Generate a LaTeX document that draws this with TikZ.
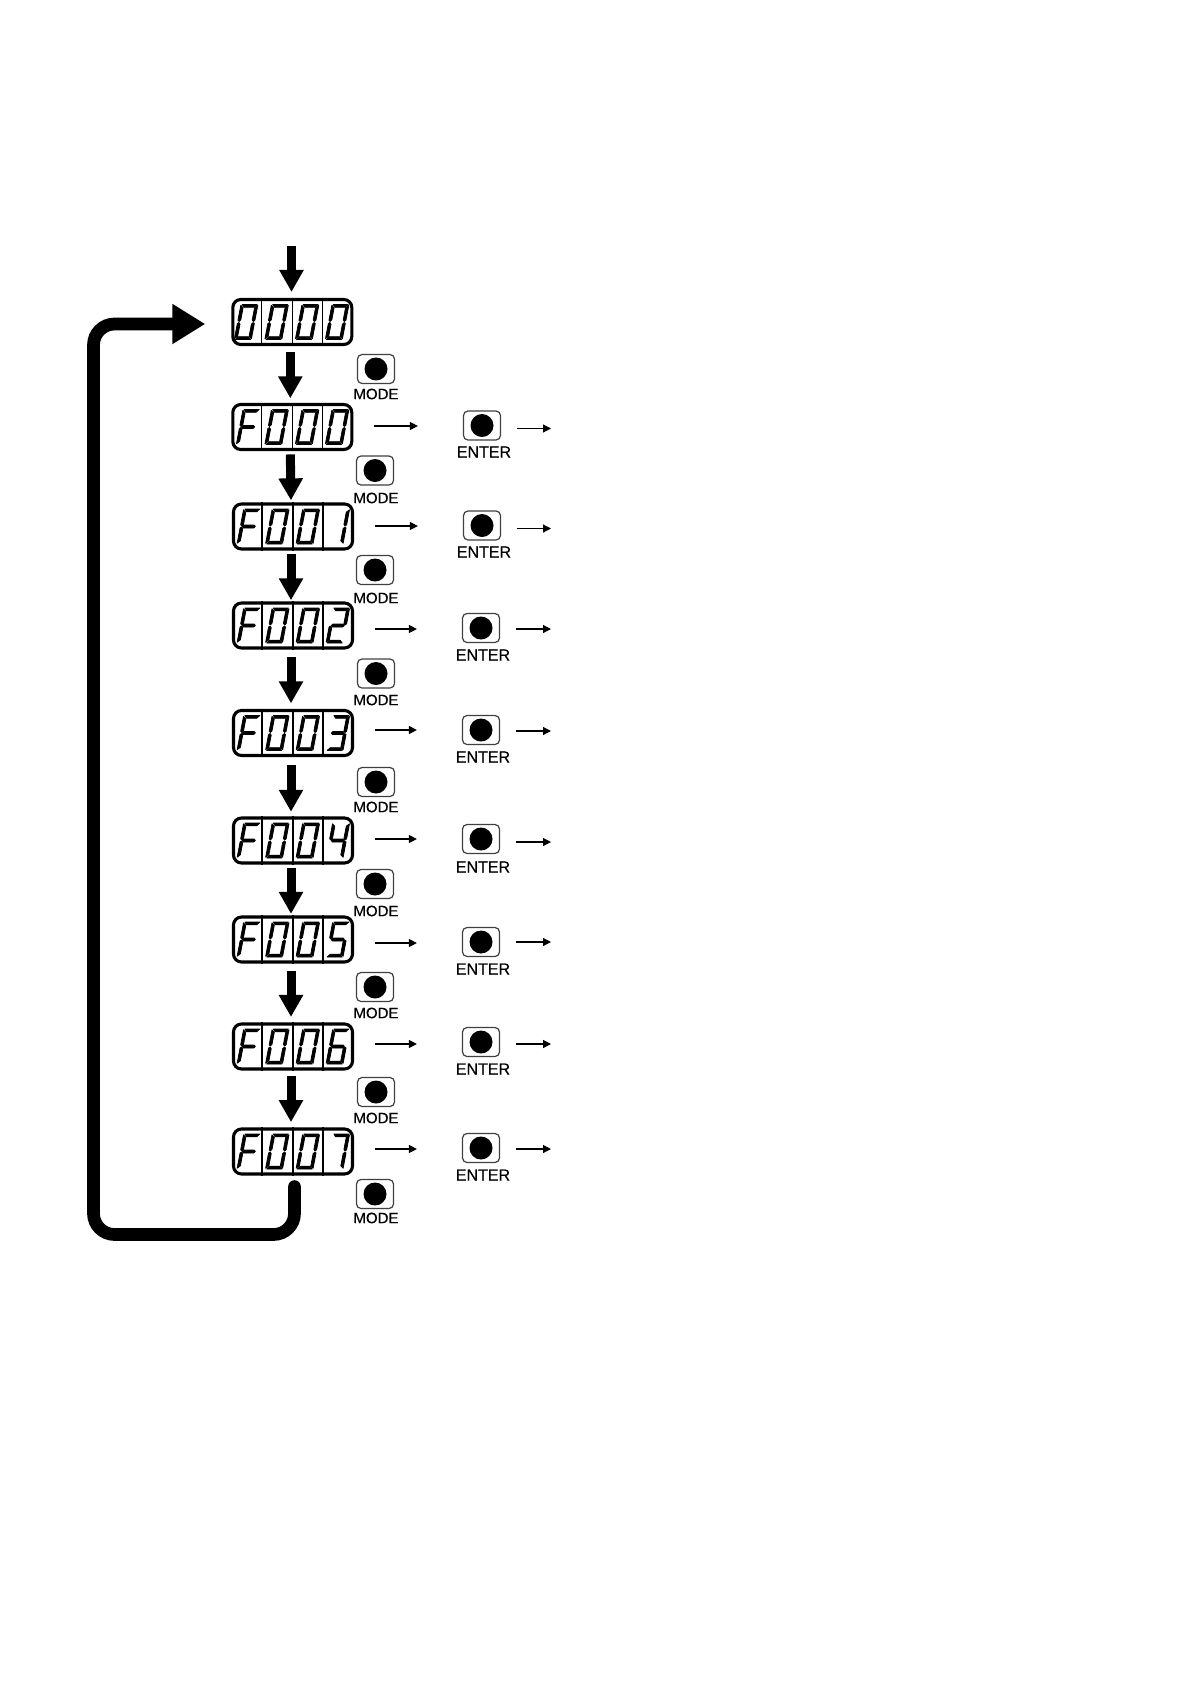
\documentclass[tikz,border=0pt]{standalone}
\usepackage{fontspec}
\setmainfont{Liberation Sans}
\newfontfamily\lblfont[FakeBold=0.35]{Liberation Sans}
\usetikzlibrary{arrows.meta}
\def\sgA{(1.2,35)--(16.2,35)--(13.6,32.2)--(3.6,32.2)--cycle}
\def\sgB{(17,34.2)--(17,19.2)--(15.6,18)--(14.2,19.6)--(14.2,31.8)--cycle}
\def\sgC{(17,16)--(15.6,17)--(14.2,15.4)--(14.2,3.2)--(17,0.8)--cycle}
\def\sgD{(1.2,0)--(16.2,0)--(13.6,2.8)--(3.6,2.8)--cycle}
\def\sgE{(0,0.8)--(2.8,3.2)--(2.8,15.4)--(1.4,17)--(0,16)--cycle}
\def\sgF{(0,34.2)--(2.8,31.8)--(2.8,19.6)--(1.4,18)--(0,19.2)--cycle}
\def\sgG{(1.9,17.5)--(3.4,19)--(13.6,19)--(15.1,17.5)--(13.6,16)--(3.4,16)--cycle}
\expandafter\def\csname digF\endcsname{A,F,E,G}
\expandafter\def\csname dig0\endcsname{A,B,C,D,E,F}
\expandafter\def\csname dig1\endcsname{B,C}
\expandafter\def\csname dig2\endcsname{A,B,G,E,D}
\expandafter\def\csname dig3\endcsname{A,B,G,C,D}
\expandafter\def\csname dig4\endcsname{F,G,B,C}
\expandafter\def\csname dig5\endcsname{A,F,G,C,D}
\expandafter\def\csname dig6\endcsname{A,F,G,E,C,D}
\expandafter\def\csname dig7\endcsname{A,B,C}
% digit: display name, x offset from display centre, character
\newcommand\SegDigit[3]{%
  \begin{scope}[shift={([xshift=#2pt,yshift=-17.5pt]#1.center)},xslant=0.19]
    \edef\curlist{\csname dig#3\endcsname}%
    \foreach \s in \curlist {%
      \expandafter\let\expandafter\curseg\csname sg\s\endcsname
      \filldraw[line width=0.75pt,line join=round] \curseg;
    }
  \end{scope}}
% display: name, centre y, four characters
\newcommand\Disp[7][293]{%
  \node[display] (#2) at (#1,-#3) {#4#5#6#7};
  \draw[divider] ([xshift=-31pt]#2.north) -- ([xshift=-31pt]#2.south);
  \draw[divider] (#2.north) -- (#2.south);
  \draw[divider] ([xshift=30pt]#2.north) -- ([xshift=30pt]#2.south);
  \if F#4 \SegDigit{#2}{-56}{#4}\else \SegDigit{#2}{-58}{#4}\fi
  \SegDigit{#2}{-27.5}{#5}
  \SegDigit{#2}{3}{#6}
  \SegDigit{#2}{33}{#7}}
% button: name, x, y, label, label x, label y, label size
\newcommand\Btn[7]{%
  \node[btn] (#1) at (#2,-#3) {};
  \node[btndot] (#1d) at (#1.center) {};
  \node[btnlabel] (#1t) at (#5,-#6) {\fontsize{#7}{18}\selectfont #4};}
\begin{document}
\begin{tikzpicture}[x=1pt,y=1pt,
  display/.style={draw,line width=3.1pt,rounded corners=8pt,minimum width=119pt,minimum height=45pt,inner sep=0pt,text opacity=0,font=\fontsize{20}{22}\selectfont},
  divider/.style={line width=1.5pt},
  btn/.style={draw=black!75,line width=1.2pt,rounded corners=4.5pt,minimum width=37pt,minimum height=29pt,inner sep=0pt},
  btndot/.style={circle,fill=black,minimum size=23pt,inner sep=0pt},
  btnlabel/.style={inner sep=0pt,font=\lblfont},
  bigarrow/.style={line width=9pt,-{Triangle[length=22pt,width=23pt]}},
  loopline/.style={line width=12.7pt,rounded corners=21pt,line cap=round,-{Triangle[length=33pt,width=38pt]}},
  smallarrow/.style={line width=1.2pt,-{Triangle[length=8pt,width=8pt]}}]
\useasboundingbox (0,0) rectangle (1191,-1684);
\fill[white] (0,0) rectangle (1191,-1684);

\Disp[292.3]{d0}{322}{0}{0}{0}{0}
\Disp[292.3]{d1}{427}{F}{0}{0}{0}
\Disp{d2}{526.5}{F}{0}{0}{1}
\Disp{d3}{625.5}{F}{0}{0}{2}
\Disp{d4}{733}{F}{0}{0}{3}
\Disp{d5}{840.5}{F}{0}{0}{4}
\Disp{d6}{939.5}{F}{0}{0}{5}
\Disp{d7}{1046.5}{F}{0}{0}{6}
\Disp{d8}{1151.5}{F}{0}{0}{7}

\coordinate (start) at (291.5,-246);
\draw[bigarrow,shorten >=6pt] (start) -- (start |- d0.north);
\foreach \a/\b/\s/\t in {d0/d1/6/4.6,d1/d2/3.4/2.1,d2/d3/3.8/1.2,d3/d4/7.9/5.6,d4/d5/7.8/4.7,d5/d6/3.4/1.6,d6/d7/7.5/5.5,d7/d8/5.7/5.3}
  \draw[bigarrow,shorten <=\s pt,shorten >=\t pt] ([xshift=-2pt]\a.south) -- ([xshift=-2pt]\b.north);

\coordinate (lb) at (93.5,-1234.5);
\coordinate (lt) at (93.5,-324);
\draw[loopline,shorten <=11pt,shorten >=26pt] ([xshift=1.5pt]d8.south) -- ([xshift=1.5pt]d8.south |- lb) -- (lb) -- (lt) -- (lt -| d0.west);

\Btn{m0}{376}{369}{MODE}{376}{394}{15}
\Btn{m1}{375}{470.5}{MODE}{376}{498}{15}
\Btn{m2}{375}{570}{MODE}{376}{598}{15}
\Btn{m3}{376}{673.5}{MODE}{376}{700}{15}
\Btn{m4}{376}{782}{MODE}{376}{807}{15}
\Btn{m5}{375}{884}{MODE}{376}{911}{15}
\Btn{m6}{375}{987}{MODE}{376}{1013}{15}
\Btn{m7}{376}{1092}{MODE}{376}{1118}{15}
\Btn{m8}{375}{1194}{MODE}{376}{1218}{15}

\Btn{e1}{482}{425.5}{ENTER}{484}{452}{16}
\Btn{e2}{482}{525.5}{ENTER}{484}{552}{16}
\Btn{e3}{481}{628}{ENTER}{483}{655}{16}
\Btn{e4}{481}{730}{ENTER}{483}{757}{16}
\Btn{e5}{481}{839}{ENTER}{483}{867}{16}
\Btn{e6}{481}{942}{ENTER}{483}{969}{16}
\Btn{e7}{481}{1042}{ENTER}{483}{1069}{16}
\Btn{e8}{481}{1148}{ENTER}{483}{1175}{16}

\foreach \i/\ya/\yb in {1/426/428.5,2/526/528.5,3/629/629,4/730/731,5/839/842,6/943/942,7/1044/1044,8/1149/1149} {
  \coordinate (p\i) at (374,-\ya);
  \coordinate (q\i) at (551,-\yb);
  \draw[smallarrow,shorten <=21pt,shorten >=45pt] (d\i.east |- p\i) -- (e\i.west |- p\i);
  \draw[smallarrow,shorten <=16pt] (e\i.east |- q\i) -- (q\i);
}
\end{tikzpicture}
\end{document}
